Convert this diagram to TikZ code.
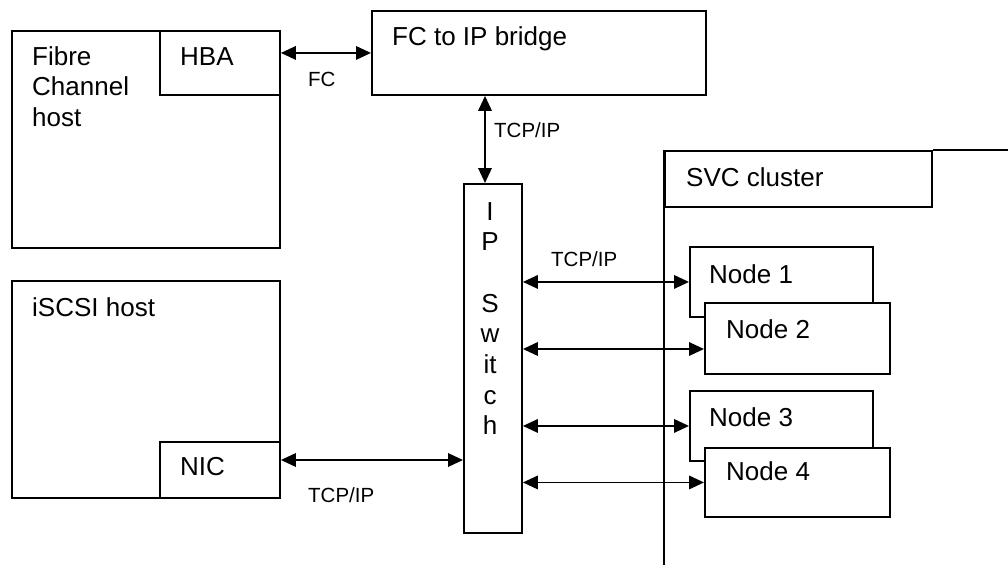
\documentclass[tikz,border=0pt]{standalone}
\usepackage{fontspec}
\setmainfont{Liberation Sans}
\usetikzlibrary{arrows.meta}
\begin{document}
\begin{tikzpicture}[x=1pt,y=-1pt,
  box/.style={draw, line width=1.9pt, fill=white, inner sep=0pt, anchor=north west},
  bigtxt/.style={anchor=base west, inner sep=0pt, font=\fontsize{26}{30.7}\selectfont},
  smalltxt/.style={anchor=base west, inner sep=0pt, font=\fontsize{20.5}{24}\selectfont},
  link/.style={line width=1.9pt, {Triangle[length=15pt,width=13.5pt]}-{Triangle[length=15pt,width=13.5pt]}},
  plain/.style={line width=1.9pt}]
\useasboundingbox (0,0) rectangle (1008,565);
% boxes
\node[box, minimum width=268pt, minimum height=217pt] (fch) at (11,30) {};
\node[box, minimum width=120pt, minimum height=64pt] (hba) at (159,30) {};
\node[box, minimum width=334pt, minimum height=84pt] (bridge) at (371,10) {};
\node[box, minimum width=268pt, minimum height=217pt] (iscsi) at (11,280) {};
\node[box, minimum width=120pt, minimum height=56pt] (nic) at (159,441) {};
\node[box, minimum width=58pt, minimum height=349pt] (switch) at (463,183) {};
\node[box, minimum width=267pt, minimum height=56pt] (svc) at (664,150) {};
\coordinate (svcbottom) at (664,565);
\coordinate (svcright) at (1008,150);
\draw[plain] (svc.north west) -- (svcbottom);
\draw[plain] (svc.north east) -- (svcright);
\node[box, minimum width=183pt, minimum height=70pt] (node1) at (689,246) {};
\node[box, minimum width=185pt, minimum height=71pt] (node2) at (704,302) {};
\node[box, minimum width=183pt, minimum height=70pt] (node3) at (689,390) {};
\node[box, minimum width=185pt, minimum height=69pt] (node4) at (704,447) {};
% texts
\node[bigtxt] (tfch) at (32,65) {\parbox[t]{200pt}{Fibre\\Channel\\host}};
\node[bigtxt] (thba) at (180,65) {HBA};
\node[bigtxt] (tbridge) at (392,45) {FC to IP bridge};
\node[bigtxt] (tiscsi) at (32,316) {iSCSI host};
\node[bigtxt] (tnic) at (180,475) {NIC};
\node[bigtxt, anchor=base] (tswitch) at (490,220) {\parbox[t]{50pt}{\centering I\\P\\[30.7pt]S\\w\\it\\c\\h}};
\node[bigtxt] (tsvc) at (686,186) {SVC cluster};
\node[bigtxt] (tn1) at (709,283) {Node 1};
\node[bigtxt] (tn2) at (726,338) {Node 2};
\node[bigtxt] (tn3) at (709,426) {Node 3};
\node[bigtxt] (tn4) at (726,480) {Node 4};
\node[smalltxt] (lfc) at (308,86) {FC};
\node[smalltxt] (ltcp1) at (494,137) {TCP/IP};
\node[smalltxt] (ltcp2) at (551,266) {TCP/IP};
\node[smalltxt] (ltcp3) at (308,502) {TCP/IP};
% connectors
\coordinate (vx) at (485,0);
\coordinate (ny) at (0,460);
\coordinate (a2) at (0,349);
\draw[link] (hba.east |- bridge.west) -- (bridge.west);
\draw[link] (vx |- bridge.south) -- (vx |- switch.north);
\draw[link] (nic.east |- ny) -- (switch.west |- ny);
\draw[link] (switch.east |- node1.west) -- (node1.west);
\draw[link] (switch.east |- a2) -- (node2.west |- a2);
\draw[link] (switch.east |- node3.west) -- (node3.west);
\draw[link] (switch.east |- node4.west) -- (node4.west);
\end{tikzpicture}
\end{document}
